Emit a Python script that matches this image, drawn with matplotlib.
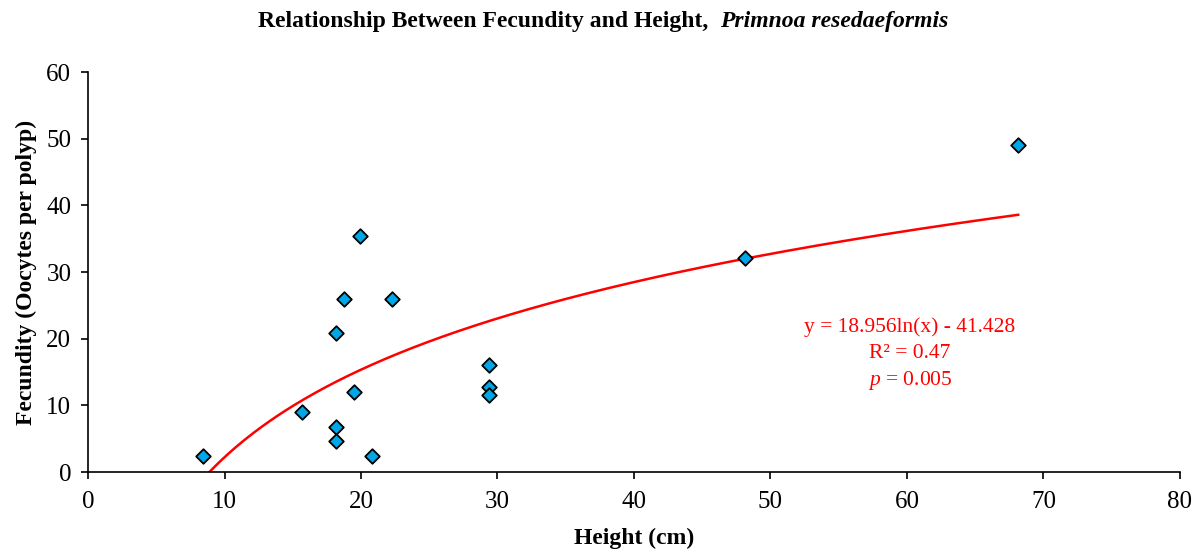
"""Fecundity vs colony height for Primnoa resedaeformis with a log fit."""

import numpy as np
import matplotlib

matplotlib.use("Agg")
import matplotlib.pyplot as plt

# colony height (cm) and fecundity (oocytes per polyp)
height_cm = [8.45, 15.65, 18.15, 18.2, 18.2, 18.75, 19.5, 19.9, 20.8, 22.25,
             29.4, 29.4, 29.4, 48.15, 68.15]
fecundity = [2.35, 9.0, 20.8, 6.7, 4.65, 26.0, 12.0, 35.4, 2.35, 26.0,
             16.0, 12.7, 11.6, 32.1, 49.05]

# logarithmic fit y = a*ln(x) + b
fit_a = 18.956
fit_b = -41.428
fit_r2 = 0.47
fit_p = 0.005

plt.rcParams["font.family"] = ["Liberation Serif", "DejaVu Serif"]
plt.rcParams["mathtext.fontset"] = "custom"
plt.rcParams["mathtext.rm"] = "Liberation Serif"
plt.rcParams["mathtext.it"] = "Liberation Serif:italic"

fig = plt.figure(figsize=(12.04, 5.55), dpi=100)
ax = fig.add_axes([0.0731, 0.1495, 0.9069, 0.7205])

x_fit = np.linspace(np.exp(-fit_b / fit_a), max(height_cm), 300)
ax.plot(x_fit, fit_a * np.log(x_fit) + fit_b, color="#ff0000", lw=1.8, zorder=2)

ax.scatter(height_cm, fecundity, marker="D", s=55, color="#00a6e6",
           edgecolor="black", linewidth=1.3, zorder=3)

ax.set_xlim(0, 80)
ax.set_ylim(0, 60)
ax.set_xticks(range(0, 81, 10))
ax.set_yticks(range(0, 61, 10))
ax.spines["top"].set_visible(False)
ax.spines["right"].set_visible(False)
for side in ("left", "bottom"):
    ax.spines[side].set_linewidth(1.2)
ax.tick_params(direction="out", length=5, width=1.2, labelsize=18)
ax.tick_params(axis="x", pad=9)
ax.tick_params(axis="y", pad=7)

ax.set_xlabel("Height (cm)", fontsize=17, fontweight="bold", labelpad=10)
ax.set_ylabel("Fecundity (Oocytes per polyp)", fontsize=17, fontweight="bold",
              labelpad=7)

# title: plain part right of centre line, species name in italics after it
fig.text(0.598, 0.962, "Relationship Between Fecundity and Height,  ",
         ha="right", va="center", fontsize=17, fontweight="bold")
fig.text(0.598, 0.962, "Primnoa resedaeformis", ha="left", va="center",
         fontsize=17, fontweight="bold", style="italic")

ann_x = 910 / 1204
ax.text(ann_x, 1 - 327 / 555, f"y = {fit_a}ln(x) - {-fit_b}",
        transform=fig.transFigure, ha="center", va="center", fontsize=15.5,
        color="#ff0000")
ax.text(ann_x, 1 - 353 / 555, f"R² = {fit_r2}",
        transform=fig.transFigure, ha="center", va="center", fontsize=15.5,
        color="#ff0000")
ax.text(ann_x, 1 - 380 / 555, f"$\\it{{p}}$ = {fit_p}",
        transform=fig.transFigure, ha="center", va="center", fontsize=15.5,
        color="#ff0000")

fig.savefig("out.png", dpi=100)
